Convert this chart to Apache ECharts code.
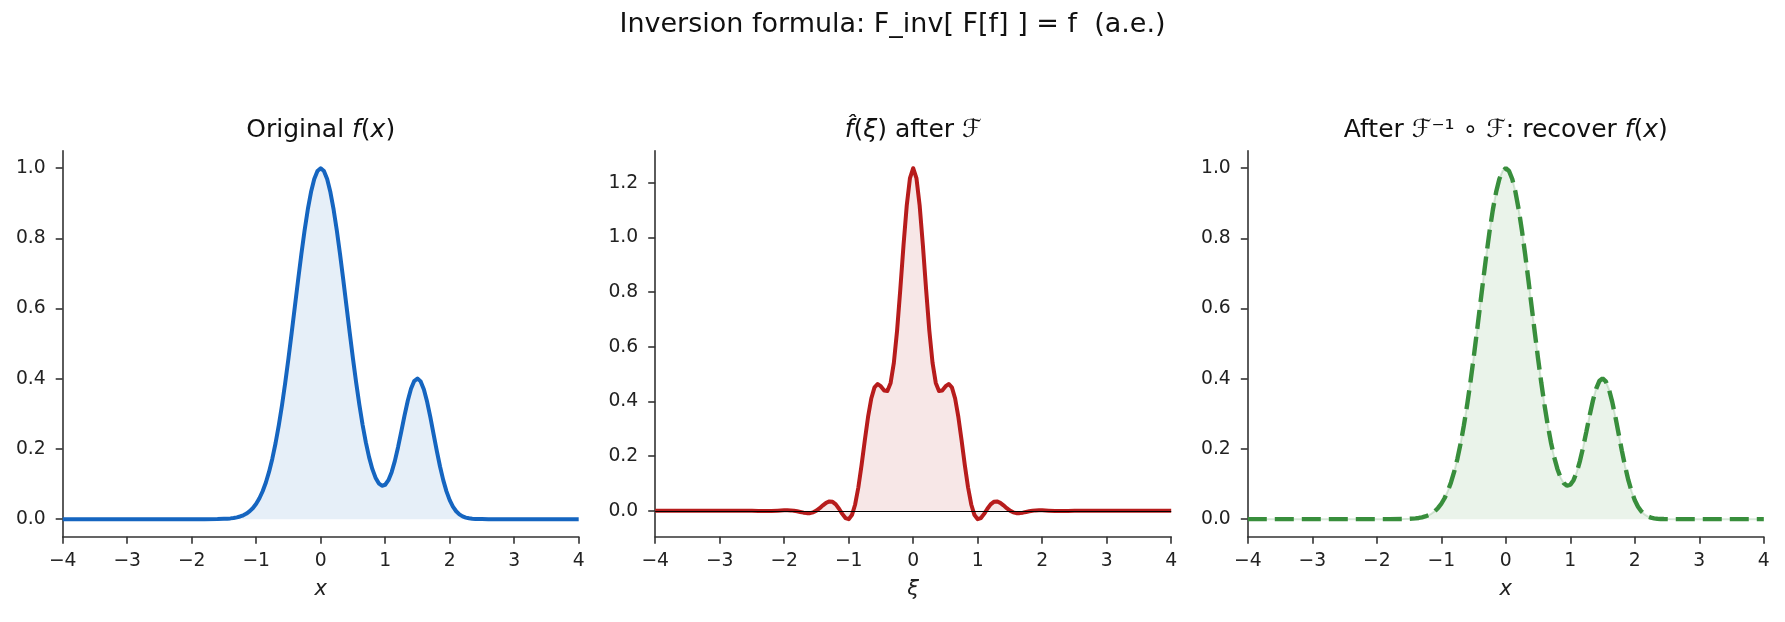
<!DOCTYPE html>
<html>
<head>
<meta charset="utf-8">
<script src="https://cdn.jsdelivr.net/npm/echarts@6/dist/echarts.min.js"></script>
<style>
html,body{margin:0;padding:0;background:#fff;}
#c{width:1785px;height:622px;}
</style>
</head>
<body>
<div id="c"></div>
<script>
// ---- data ----
const fX = [-4,-3.5,-3,-2.5,-2,-1.8,-1.6,
  -1.5,-1.45,-1.4,-1.35,-1.3,-1.25,-1.2,-1.15,-1.1,-1.05,-1,-0.95,-0.9,-0.85,-0.8,-0.75,-0.7,-0.65,-0.6,-0.55,-0.5,-0.45,-0.4,-0.35,-0.3,-0.25,-0.2,-0.15,-0.1,-0.05,
  0,0.05,0.1,0.15,0.2,0.25,0.3,0.35,0.4,0.45,0.5,0.55,0.6,0.65,0.7,0.75,0.8,0.85,0.9,0.95,
  1,1.05,1.1,1.15,1.2,1.25,1.3,1.35,1.4,1.45,1.5,1.55,1.6,1.65,1.7,1.75,1.8,1.85,1.9,1.95,
  2,2.05,2.1,2.15,2.2,2.25,2.3,2.35,2.4,2.45,2.5,2.6,2.8,3,3.5,4];
const fY = [0,0,0,0,0,0.0000,0.0003,
  0.0009,0.0014,0.0022,0.0034,0.0051,0.0076,0.0111,0.0160,0.0228,0.0319,0.0439,0.0596,0.0796,0.1046,0.1353,0.1724,0.2163,0.2671,0.3247,0.3886,0.4578,0.5311,0.6065,0.6819,0.7548,0.8226,0.8825,0.9321,0.9692,0.9922,
  1.0000,0.9922,0.9692,0.9321,0.8825,0.8226,0.7548,0.6819,0.6065,0.5312,0.4579,0.3889,0.3253,0.2683,0.2187,0.1768,0.1432,0.1182,0.1021,0.0952,
  0.0980,0.1111,0.1340,0.1661,0.2058,0.2502,0.2956,0.3375,0.3714,0.3935,0.4009,0.3926,0.3695,0.3343,0.2906,0.2426,0.1947,0.1501,0.1112,0.0792,
  0.0541,0.0356,0.0225,0.0136,0.0079,0.0044,0.0024,0.0012,0.0006,0.0003,0.0001,0,0,0,0,0];

const xiX = [-4,-3.5,-3,-2.5,-2.4,-2.3,-2.2,-2.1,-2,
  -1.95,-1.9,-1.85,-1.8,-1.75,-1.7,-1.65,-1.6,-1.55,-1.5,-1.45,-1.4,-1.35,-1.3,-1.25,-1.2,-1.15,-1.1,-1.05,-1,
  -0.95,-0.9,-0.85,-0.8,-0.75,-0.7,-0.65,-0.6,-0.55,-0.5,-0.45,-0.4,-0.35,-0.3,-0.25,-0.2,-0.15,-0.1,-0.05,
  0,0.05,0.1,0.15,0.2,0.25,0.3,0.35,0.4,0.45,0.5,0.55,0.6,0.65,0.7,0.75,0.8,0.85,0.9,0.95,
  1,1.05,1.1,1.15,1.2,1.25,1.3,1.35,1.4,1.45,1.5,1.55,1.6,1.65,1.7,1.75,1.8,1.85,1.9,1.95,
  2,2.1,2.2,2.3,2.4,2.5,3,3.5,4];
const xiY = [0,0,0,0,-0.0002,-0.0004,-0.0002,0.0006,0.0018,
  0.0020,0.0017,0.0006,-0.0014,-0.0040,-0.0067,-0.0084,-0.0084,-0.0054,0.0008,0.0098,0.0201,0.0294,0.0345,0.0330,0.0237,0.0077,-0.0111,-0.0265,-0.0304,
  -0.0154,0.0233,0.0863,0.1681,0.2583,0.3436,0.4111,0.4518,0.4641,0.4552,0.4402,0.4384,0.4681,0.5412,0.6590,0.8100,0.9720,1.1170,1.2175,
  1.2534,1.2175,1.1170,0.9720,0.8100,0.6590,0.5412,0.4681,0.4384,0.4402,0.4552,0.4641,0.4518,0.4111,0.3436,0.2583,0.1681,0.0863,0.0233,-0.0154,
  -0.0304,-0.0265,-0.0111,0.0077,0.0237,0.0330,0.0345,0.0294,0.0201,0.0098,0.0008,-0.0054,-0.0084,-0.0084,-0.0067,-0.0040,-0.0014,0.0006,0.0017,0.0020,
  0.0018,0.0006,-0.0002,-0.0004,-0.0002,0,0,0,0];

const xTicks = [-4,-3,-2,-1,0,1,2,3,4];
const yTicksF = [0,0.2,0.4,0.6,0.8,1.0];
const yTicksXi = [0,0.2,0.4,0.6,0.8,1.0,1.2];

const mainTitle = 'Inversion formula: F_inv[ F[f] ] = f  (a.e.)';

// ---- build ----
const FONT = 'DejaVu Sans';
const pairs = (xs, ys) => xs.map((x, i) => [x, ys[i]]);
const fData = pairs(fX, fY);
const xiData = pairs(xiX, xiY);

const gridLefts = [62.7, 655.2, 1247.8];
const gridW = 516, gridTop = 150.7, gridH = 386;

const lineSty = {color: '#333', width: 1.6};

function xAx(i, name) {
  return {
    type: 'value', gridIndex: i, min: -4, max: 4, interval: 1,
    axisLine: {show: true, onZero: false, lineStyle: lineSty},
    splitLine: {show: false},
    axisLabel: {customValues: xTicks, margin: 15, color: '#222', fontSize: 18.75, fontFamily: FONT,
      formatter: v => v < 0 ? '\u2212' + (-v) : String(v)},
    axisTick: {show: true, customValues: xTicks, length: 7, lineStyle: lineSty},
    name: name, nameLocation: 'middle', nameGap: 42,
    nameTextStyle: {fontSize: 21, fontStyle: 'italic', fontFamily: FONT, color: '#222'}
  };
}
function yAx(i, min, max, ticks) {
  return {
    type: 'value', gridIndex: i, min: min, max: max,
    axisLine: {show: true, onZero: false, lineStyle: lineSty},
    splitLine: {show: false},
    axisLabel: {customValues: ticks, margin: 17, color: '#222', fontSize: 18.75, fontFamily: FONT,
      formatter: v => v.toFixed(1)},
    axisTick: {show: true, customValues: ticks, length: 7, lineStyle: lineSty}
  };
}

const rich = {
  n: {fontSize: 25, fontFamily: FONT, color: '#111'},
  i: {fontSize: 25, fontFamily: FONT, fontStyle: 'italic', color: '#111'},
  c: {fontSize: 25, fontFamily: FONT, fontStyle: 'italic', color: '#111'}
};
function sub(text, cx) {
  return {text: text, left: cx, top: 118, textAlign: 'center', padding: 0,
    textStyle: {fontSize: 25, fontWeight: 'normal', fontFamily: FONT, color: '#111', rich: rich}};
}

const option = {
  animation: false,
  backgroundColor: '#fff',
  title: [
    {text: mainTitle, left: 'center', top: 11, padding: 0,
      textStyle: {fontSize: 27, fontWeight: 'normal', fontFamily: FONT, color: '#111'}},
    sub('{n|Original }{i|f}{n|(}{i|x}{n|)}', gridLefts[0] + gridW / 2),
    sub('{i|f\u0302}{n|(}{i|\u03BE}{n|) after }{c|\u2131}', gridLefts[1] + gridW / 2),
    sub('{n|After }{c|\u2131}{n|\u207B\u00B9 \u2218 }{c|\u2131}{n|: recover }{i|f}{n|(}{i|x}{n|)}', gridLefts[2] + gridW / 2)
  ],
  grid: gridLefts.map(l => ({left: l, top: gridTop, width: gridW, height: gridH, containLabel: false})),
  xAxis: [xAx(0, 'x'), xAx(1, '\u03BE'), xAx(2, 'x')],
  yAxis: [yAx(0, -0.05, 1.05, yTicksF), yAx(1, -0.0946, 1.3176, yTicksXi), yAx(2, -0.05, 1.05, yTicksF)],
  series: [
    {type: 'line', xAxisIndex: 0, yAxisIndex: 0, data: fData, showSymbol: false, symbol: 'none', z: 3,
      lineStyle: {color: '#1565C0', width: 4, join: 'round'},
      areaStyle: {color: 'rgba(21,101,192,0.15)'}},
    {type: 'line', xAxisIndex: 1, yAxisIndex: 1, data: xiData, showSymbol: false, symbol: 'none', z: 3,
      lineStyle: {color: '#B71C1C', width: 4, join: 'round'},
      areaStyle: {color: 'rgba(183,28,28,0.15)'},
      markLine: {silent: true, symbol: ['none', 'none'], z: 10, animation: false,
        label: {show: false}, lineStyle: {color: '#000', width: 1.2, type: 'solid'},
        data: [{yAxis: 0}]}},
    {type: 'line', xAxisIndex: 2, yAxisIndex: 2, data: fData, showSymbol: false, symbol: 'none', z: 2,
      lineStyle: {color: 'rgba(56,142,60,0.2)', width: 2},
      areaStyle: {color: 'rgba(56,142,60,0.15)'}},
    {type: 'line', xAxisIndex: 2, yAxisIndex: 2, data: fData, showSymbol: false, symbol: 'none', z: 3,
      lineStyle: {color: '#388E3C', width: 4.4, type: [19, 8], cap: 'butt'}}
  ]
};

const chart = echarts.init(document.getElementById('c'), null, {renderer: 'canvas'});
chart.setOption(option);
</script>
</body>
</html>
